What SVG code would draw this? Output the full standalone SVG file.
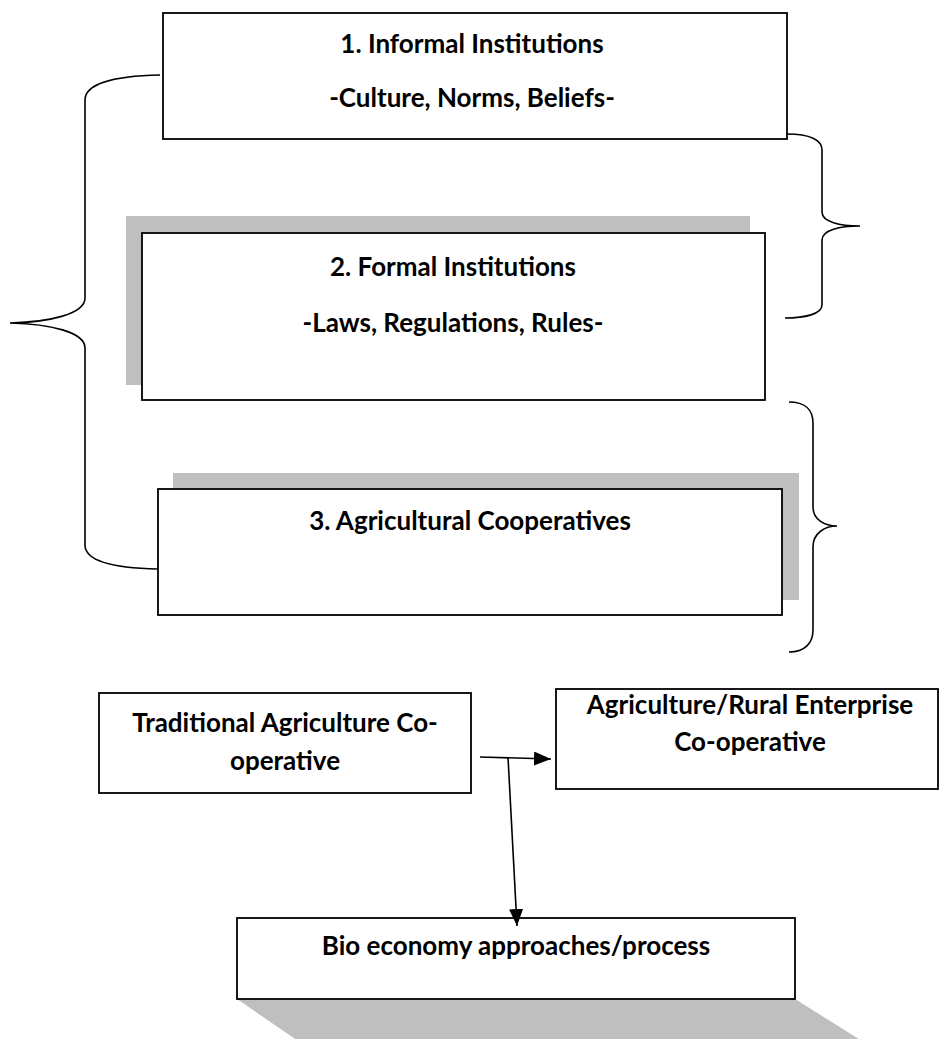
<svg xmlns="http://www.w3.org/2000/svg" width="939" height="1039" viewBox="0 0 939 1039">
<defs>
<style>
.box{fill:#ffffff;stroke:#000000;stroke-width:1.8}
.shadow{fill:#bfbfbf;stroke:none}
.t{font-family:Lato,"Liberation Sans",sans-serif;font-weight:bold;font-size:26px;fill:#000000;text-anchor:middle}
.brace{fill:none;stroke:#000000;stroke-width:1.6}
.conn{fill:none;stroke:#000000;stroke-width:1.6}
</style>
<marker id="arrL" viewBox="0 0 10 10" refX="10" refY="5" markerWidth="17" markerHeight="14" markerUnits="userSpaceOnUse" orient="auto" preserveAspectRatio="none">
<path d="M0,0 L10,5 L0,10 Z" fill="#000000"/>
</marker>
</defs>

<g id="braces">
<path class="brace" d="M160,75 C110,76 85,85 85,100 L85,298 C85,314 50,322 10,323 C50,324 85,332 85,348 L85,545 C85,560 110,568 158,569"/>
<path class="brace" d="M787,134 C810,134 822,140 822,150 L822,212 C822,222 840,226 860,226 C840,226 822,230 822,240 L822,305 C822,314 805,318 785,318"/>
<path class="brace" d="M789,402 C805,402 813,410 813,423 L813,507 C813,520 825,526 837,526 C825,526 813,533 813,547 L813,630 C813,643 805,652 789,652"/>
</g>

<g id="node1">
<rect class="box" x="163" y="13" width="624" height="126"/>
<text class="t" x="472" y="53">1. Informal Institutions</text>
<text class="t" x="472" y="107">-Culture, Norms, Beliefs-</text>
</g>

<g id="node2">
<rect class="shadow" x="126" y="216" width="624" height="169"/>
<rect class="box" x="142" y="233" width="623" height="167"/>
<text class="t" x="453" y="276">2. Formal Institutions</text>
<text class="t" x="453" y="332">-Laws, Regulations, Rules-</text>
</g>

<g id="node3">
<rect class="shadow" x="173" y="473" width="626" height="127"/>
<rect class="box" x="158" y="489" width="624" height="126"/>
<text class="t" x="470" y="530">3. Agricultural Cooperatives</text>
</g>

<g id="node4">
<rect class="box" x="99" y="693" width="372" height="100"/>
<text class="t" x="285" y="732">Traditional Agriculture Co-</text>
<text class="t" x="285" y="770">operative</text>
</g>

<g id="node5">
<rect class="box" x="556" y="689" width="382" height="100"/>
<text class="t" x="750" y="714">Agriculture/Rural Enterprise</text>
<text class="t" x="750" y="751">Co-operative</text>
</g>

<g id="node6">
<polygon class="shadow" points="237,999 795,999 862,1041 298,1041"/>
<rect class="box" x="237" y="918" width="558" height="81"/>
<text class="t" x="516" y="955">Bio economy approaches/process</text>
</g>

<g id="connectors">
<line class="conn" x1="480" y1="757" x2="551" y2="759" marker-end="url(#arrL)"/>
<line class="conn" x1="508" y1="757" x2="517" y2="926" marker-end="url(#arrL)"/>
</g>
</svg>
